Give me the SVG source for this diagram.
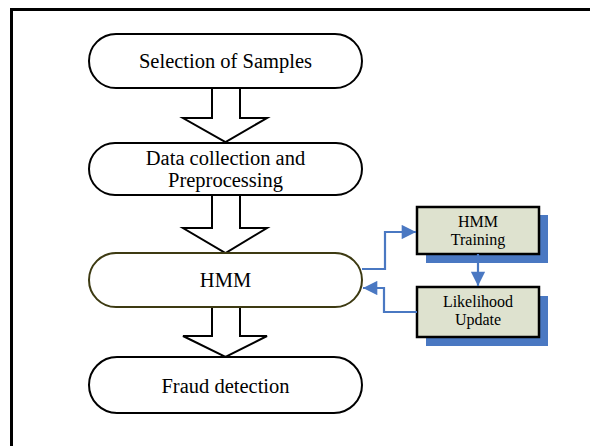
<svg xmlns="http://www.w3.org/2000/svg" width="590" height="446" viewBox="0 0 590 446">
<style>
.term{fill:#fff;stroke:#000;stroke-width:2}
.big{font-family:"Liberation Serif","Times New Roman",serif;font-size:20.5px;fill:#000;text-anchor:middle}
.small{font-family:"Liberation Serif","Times New Roman",serif;font-size:16px;fill:#000;text-anchor:middle}
.blk{fill:#fff;stroke:#000;stroke-width:2;stroke-linejoin:miter}
.box{fill:#dee2cf;stroke:#000;stroke-width:2.5}
.shadow{fill:#4a78c2}
.conn{fill:none;stroke:#4a78c2;stroke-width:2.2}
</style>
<defs>
<marker id="ah" viewBox="0 0 10 10" refX="10" refY="5" markerWidth="7" markerHeight="6.5" markerUnits="strokeWidth" orient="auto">
<path d="M0,0 L10,5 L0,10 z" fill="#4a78c2"/>
</marker>
</defs>
<rect width="590" height="446" fill="#fff"/>
<path d="M11.5,446 V9.5 H590" fill="none" stroke="#000" stroke-width="3"/>

<g id="block-arrows">
<path class="blk" d="M212,88 V118 H183 L225.5,142 L267,118 H240 V88"/>
<path class="blk" d="M212,195 V228 H183 L225.5,253 L267,228 H240 V195"/>
<path class="blk" d="M212,307 V336 H183 L225.5,357 L267,336 H240 V307"/>
</g>

<g id="n1">
<rect class="term" x="89" y="34" width="273" height="54" rx="27"/>
<text class="big" x="225.5" y="68">Selection of Samples</text>
</g>
<g id="n2">
<rect class="term" x="89" y="143" width="273" height="52" rx="26"/>
<text class="big" x="225.5" y="165">Data collection and</text>
<text class="big" x="225.5" y="187">Preprocessing</text>
</g>
<g id="n3">
<rect class="term" x="89" y="253" width="273" height="54" rx="27" style="stroke:#3d3a12"/>
<text class="big" x="225.5" y="287">HMM</text>
</g>
<g id="n4">
<rect class="term" x="89" y="357" width="273" height="56" rx="28"/>
<text class="big" x="225.5" y="393">Fraud detection</text>
</g>

<g id="n5">
<rect class="shadow" x="426" y="215" width="122" height="48"/>
<rect class="box" x="417" y="207" width="122" height="47"/>
<text class="small" x="478" y="227">HMM</text>
<text class="small" x="478" y="245">Training</text>
</g>
<g id="n6">
<rect class="shadow" x="426" y="296" width="122" height="50"/>
<rect class="box" x="417" y="287" width="122" height="50"/>
<text class="small" x="478" y="307">Likelihood</text>
<text class="small" x="478" y="325">Update</text>
</g>

<g id="connectors">
<path class="conn" d="M362,269 H385 V232 H416" marker-end="url(#ah)"/>
<path class="conn" d="M478,254 V286" marker-end="url(#ah)"/>
<path class="conn" d="M417,312 H384 V288 H363" marker-end="url(#ah)"/>
</g>
</svg>
